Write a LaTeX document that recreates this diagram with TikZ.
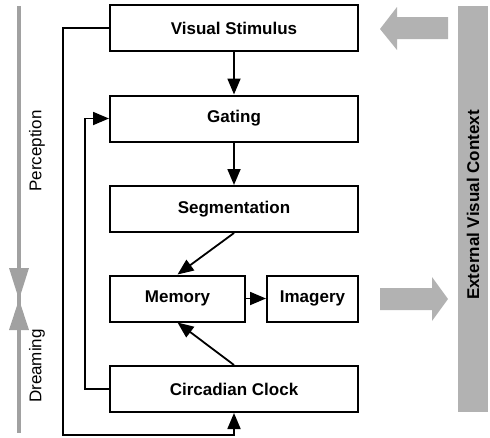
\documentclass[tikz,border=0pt]{standalone}
\usepackage{fontspec}
\setmainfont{Liberation Sans}
\usetikzlibrary{arrows.meta}
\begin{document}
\begin{tikzpicture}[x=1pt,y=-1pt,
  box/.style={draw,line width=2pt,minimum height=46pt,inner sep=0pt,font=\fontsize{17}{20}\selectfont\bfseries},
  conn/.style={line width=1.8pt,-{Triangle[length=16pt,width=13pt]}},
  lbl/.style={rotate=90,font=\fontsize{17}{20}\selectfont}]
\useasboundingbox (0,0) rectangle (490,437);
\node[box,minimum width=248pt] (vs) at (234,28) {Visual Stimulus};
\node[box,minimum width=248pt] (gat) at (234,118.5) {Gating};
\node[box,minimum width=248pt] (seg) at (234,209) {Segmentation};
\node[box,minimum width=135pt] (mem) at (177.5,298.5) {Memory};
\node[box,minimum width=91pt] (img) at (312.5,298.5) {Imagery};
\node[box,minimum width=248pt] (clk) at (234,389) {Circadian Clock};
\draw[conn] (vs) -- (gat);
\draw[conn] (gat) -- (seg);
\draw[conn] (seg.south) -- (mem.north);
\draw[conn] (clk.north) -- (mem.south);
\draw[conn] (mem) -- (img);
\coordinate (lb) at (63,435);
\draw[conn] (vs.west) -| (lb) -| (clk.south);
\draw[conn] (clk.west) -- ++(-24,0) |- (gat.west);
% left gray bar
\draw[line width=3.5pt,draw=black!37] (19,6) -- (19,433);
\fill[black!37] (9,268) -- (29,268) -- (19,299.5) -- cycle;
\fill[black!37] (9,330) -- (29,330) -- (19,299.5) -- cycle;
\node[lbl] (per) at (37,151) {Perception};
\node[lbl] (dre) at (37,366) {Dreaming};
% right bar
\fill[black!30] (458,6) rectangle (488,412);
\node[lbl,font=\fontsize{17}{20}\selectfont\bfseries] (ext) at (473,205) {External Visual Context};
% gray arrows
\fill[black!30] (448,17) -- (397,17) -- (397,7) -- (380,29) -- (397,50) -- (397,39) -- (448,39) -- cycle;
\fill[black!30] (380,288) -- (432,288) -- (432,277) -- (448,299) -- (432,321) -- (432,310) -- (380,310) -- cycle;
\end{tikzpicture}
\end{document}
